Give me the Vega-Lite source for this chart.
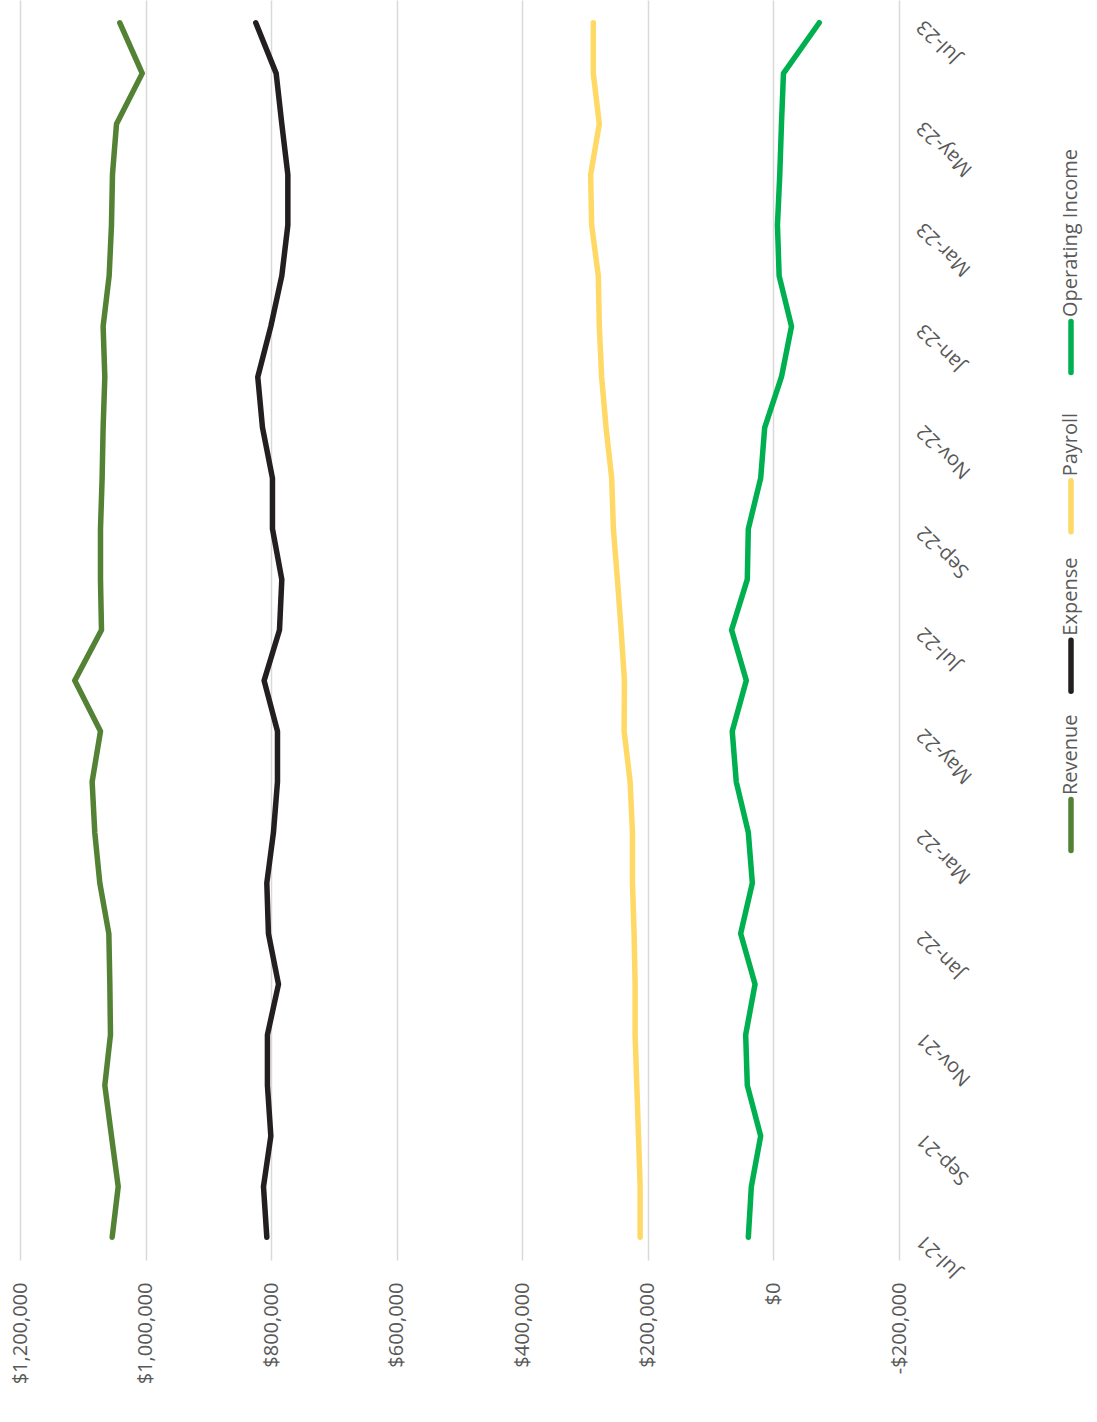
{
  "$schema": "https://vega.github.io/schema/vega-lite/v6.json",
  "padding": {"left": 10, "top": 0, "right": 0, "bottom": 0},
  "background": "white",
  "config": {"view": {"stroke": null}, "font": "Open Sans", "concat": {"spacing": 80}},
  "datasets": {
    "main": [
      {"m":"Jul-21","s":"Revenue","v":1053200},{"m":"Aug-21","s":"Revenue","v":1043600},{"m":"Sep-21","s":"Revenue","v":1054300},{"m":"Oct-21","s":"Revenue","v":1064900},{"m":"Nov-21","s":"Revenue","v":1055900},{"m":"Dec-21","s":"Revenue","v":1056900},{"m":"Jan-22","s":"Revenue","v":1058500},{"m":"Feb-22","s":"Revenue","v":1072900},{"m":"Mar-22","s":"Revenue","v":1080900},{"m":"Apr-22","s":"Revenue","v":1085100},{"m":"May-22","s":"Revenue","v":1071800},{"m":"Jun-22","s":"Revenue","v":1112800},{"m":"Jul-22","s":"Revenue","v":1070200},{"m":"Aug-22","s":"Revenue","v":1071800},{"m":"Sep-22","s":"Revenue","v":1071800},{"m":"Oct-22","s":"Revenue","v":1069200},{"m":"Nov-22","s":"Revenue","v":1067600},{"m":"Dec-22","s":"Revenue","v":1064900},{"m":"Jan-23","s":"Revenue","v":1067600},{"m":"Feb-23","s":"Revenue","v":1058000},{"m":"Mar-23","s":"Revenue","v":1054300},{"m":"Apr-23","s":"Revenue","v":1052700},{"m":"May-23","s":"Revenue","v":1046300},{"m":"Jun-23","s":"Revenue","v":1005300},{"m":"Jul-23","s":"Revenue","v":1041000},
      {"m":"Jul-21","s":"Expense","v":806900},{"m":"Aug-21","s":"Expense","v":812200},{"m":"Sep-21","s":"Expense","v":800500},{"m":"Oct-21","s":"Expense","v":805900},{"m":"Nov-21","s":"Expense","v":805900},{"m":"Dec-21","s":"Expense","v":788300},{"m":"Jan-22","s":"Expense","v":804300},{"m":"Feb-22","s":"Expense","v":806900},{"m":"Mar-22","s":"Expense","v":796300},{"m":"Apr-22","s":"Expense","v":789900},{"m":"May-22","s":"Expense","v":789900},{"m":"Jun-22","s":"Expense","v":811200},{"m":"Jul-22","s":"Expense","v":786700},{"m":"Aug-22","s":"Expense","v":783000},{"m":"Sep-22","s":"Expense","v":797900},{"m":"Oct-22","s":"Expense","v":797900},{"m":"Nov-22","s":"Expense","v":813800},{"m":"Dec-22","s":"Expense","v":821300},{"m":"Jan-23","s":"Expense","v":800500},{"m":"Feb-23","s":"Expense","v":783000},{"m":"Mar-23","s":"Expense","v":773400},{"m":"Apr-23","s":"Expense","v":773400},{"m":"May-23","s":"Expense","v":783000},{"m":"Jun-23","s":"Expense","v":792000},{"m":"Jul-23","s":"Expense","v":824500},
      {"m":"Jul-21","s":"Payroll","v":212300},{"m":"Aug-21","s":"Payroll","v":212300},{"m":"Sep-21","s":"Payroll","v":214900},{"m":"Oct-21","s":"Payroll","v":217600},{"m":"Nov-21","s":"Payroll","v":220300},{"m":"Dec-21","s":"Payroll","v":220300},{"m":"Jan-22","s":"Payroll","v":221900},{"m":"Feb-22","s":"Payroll","v":224500},{"m":"Mar-22","s":"Payroll","v":224500},{"m":"Apr-22","s":"Payroll","v":228200},{"m":"May-22","s":"Payroll","v":237800},{"m":"Jun-22","s":"Payroll","v":237300},{"m":"Jul-22","s":"Payroll","v":242600},{"m":"Aug-22","s":"Payroll","v":248500},{"m":"Sep-22","s":"Payroll","v":254900},{"m":"Oct-22","s":"Payroll","v":257600},{"m":"Nov-22","s":"Payroll","v":266600},{"m":"Dec-22","s":"Payroll","v":273600},{"m":"Jan-23","s":"Payroll","v":277300},{"m":"Feb-23","s":"Payroll","v":278900},{"m":"Mar-23","s":"Payroll","v":289500},{"m":"Apr-23","s":"Payroll","v":291100},{"m":"May-23","s":"Payroll","v":277300},{"m":"Jun-23","s":"Payroll","v":286900},{"m":"Jul-23","s":"Payroll","v":286900},
      {"m":"Jul-21","s":"Operating Income","v":40000},{"m":"Aug-21","s":"Operating Income","v":35200},{"m":"Sep-21","s":"Operating Income","v":20300},{"m":"Oct-21","s":"Operating Income","v":41600},{"m":"Nov-21","s":"Operating Income","v":44200},{"m":"Dec-21","s":"Operating Income","v":29300},{"m":"Jan-22","s":"Operating Income","v":52200},{"m":"Feb-22","s":"Operating Income","v":33600},{"m":"Mar-22","s":"Operating Income","v":40000},{"m":"Apr-22","s":"Operating Income","v":59200},{"m":"May-22","s":"Operating Income","v":65600},{"m":"Jun-22","s":"Operating Income","v":43200},{"m":"Jul-22","s":"Operating Income","v":66600},{"m":"Aug-22","s":"Operating Income","v":41600},{"m":"Sep-22","s":"Operating Income","v":40000},{"m":"Oct-22","s":"Operating Income","v":20300},{"m":"Nov-22","s":"Operating Income","v":13900},{"m":"Dec-22","s":"Operating Income","v":-12800},{"m":"Jan-23","s":"Operating Income","v":-28800},{"m":"Feb-23","s":"Operating Income","v":-9100},{"m":"Mar-23","s":"Operating Income","v":-6400},{"m":"Apr-23","s":"Operating Income","v":-10100},{"m":"May-23","s":"Operating Income","v":-12800},{"m":"Jun-23","s":"Operating Income","v":-16000},{"m":"Jul-23","s":"Operating Income","v":-73000}
    ],
    "legend": [
      {"s":"Revenue"},{"s":"Expense"},{"s":"Payroll"},{"s":"Operating Income"}
    ]
  },
  "hconcat": [
    {
      "width": 879,
      "height": 1260,
      "data": {"name": "main"},
      "mark": {"type": "line", "strokeWidth": 5.5, "strokeCap": "round", "strokeJoin": "round"},
      "encoding": {
        "x": {
          "field": "v", "type": "quantitative",
          "scale": {"domain": [-200000, 1200000], "reverse": true, "nice": false, "zero": false},
          "axis": {
            "values": [-200000, 0, 200000, 400000, 600000, 800000, 1000000, 1200000],
            "format": "$,.0f",
            "labelExpr": "replace(datum.label, '\u2212', '-')",
            "title": null, "domain": false, "ticks": false,
            "grid": true, "gridColor": "#d9d9d9", "gridWidth": 1.5,
            "labelAngle": -90, "labelAlign": "right", "labelBaseline": "middle",
            "labelPadding": 22, "labelFontSize": 20, "labelColor": "#595959", "labelFont": "Open Sans"
          }
        },
        "y": {
          "field": "m", "type": "ordinal",
          "sort": ["Jul-23","Jun-23","May-23","Apr-23","Mar-23","Feb-23","Jan-23","Dec-22","Nov-22","Oct-22","Sep-22","Aug-22","Jul-22","Jun-22","May-22","Apr-22","Mar-22","Feb-22","Jan-22","Dec-21","Nov-21","Oct-21","Sep-21","Aug-21","Jul-21"],
          "scale": {"type": "point", "padding": 0.45},
          "axis": {
            "orient": "right",
            "values": ["Jul-21","Sep-21","Nov-21","Jan-22","Mar-22","May-22","Jul-22","Sep-22","Nov-22","Jan-23","Mar-23","May-23","Jul-23"],
            "title": null, "domain": false, "ticks": false, "grid": false,
            "labelAngle": 225, "labelAlign": "right", "labelBaseline": "middle",
            "labelPadding": 21, "labelFontSize": 20, "labelColor": "#595959", "labelFont": "Open Sans"
          }
        },
        "color": {
          "field": "s", "type": "nominal",
          "scale": {"domain": ["Revenue","Expense","Payroll","Operating Income"], "range": ["#548235","#231f20","#ffd966","#00b050"]},
          "legend": null
        }
      }
    },
    {
      "width": 30,
      "height": 1260,
      "data": {"name": "legend"},
      "encoding": {
        "y": {"field": "s", "type": "nominal", "sort": ["Operating Income","Payroll","Expense","Revenue"], "scale": {"type": "point", "padding": 0, "range": [347, 825]}, "axis": null},
        "color": {"field": "s", "type": "nominal", "legend": null}
      },
      "layer": [
        {"mark": {"type": "point", "shape": "stroke", "angle": 90, "size": 2601, "strokeWidth": 5.5, "strokeCap": "round", "opacity": 1}},
        {"mark": {"type": "text", "angle": 270, "align": "left", "baseline": "middle", "dx": 30, "fontSize": 20, "font": "Open Sans", "color": "#595959"}, "encoding": {"text": {"field": "s"}, "color": {"value": "#595959"}}}
      ]
    }
  ]
}
